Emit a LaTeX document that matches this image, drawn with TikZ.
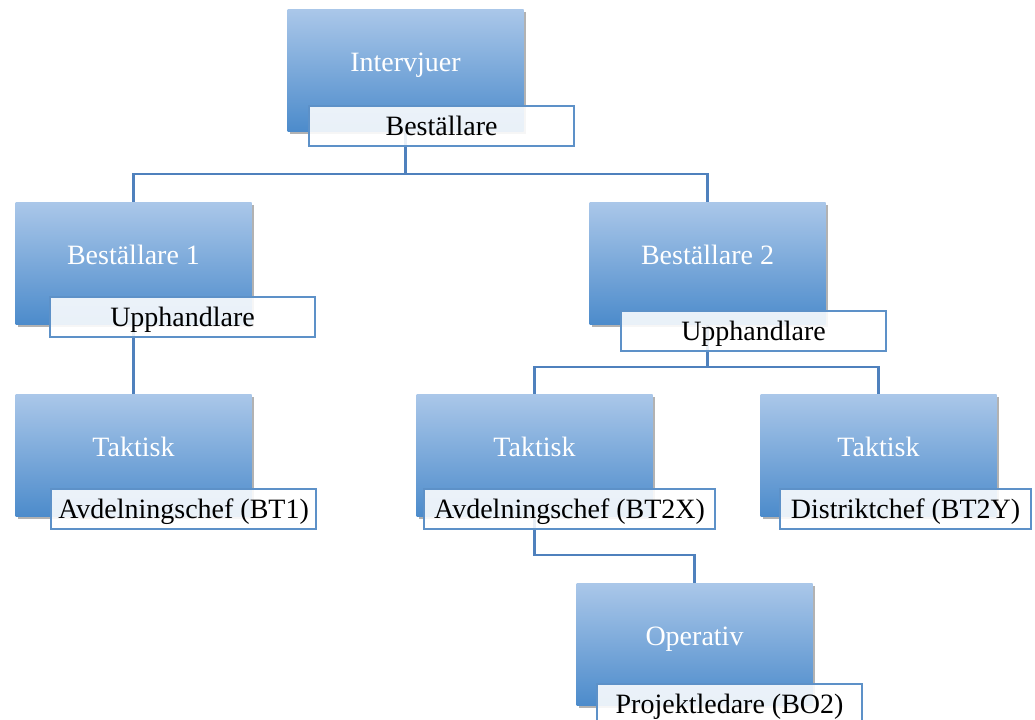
\documentclass[tikz,border=0pt]{standalone}
\usepackage{fontspec}
\setmainfont{Liberation Serif}
\usetikzlibrary{shadows,backgrounds}

\definecolor{boxtop}{RGB}{170,199,233}
\definecolor{boxbot}{RGB}{76,139,203}
\definecolor{lineblue}{RGB}{79,129,189}
\definecolor{tagblue}{RGB}{93,145,200}

\tikzset{every picture/.style={line width=0.75pt}}
\tikzset{
  rolebox/.style={rectangle, anchor=north west, minimum width=177pt, minimum height=91.5pt,
    inner sep=0pt, text height=46.5pt, text depth=45pt, top color=boxtop, bottom color=boxbot,
    text=white, font=\fontsize{21}{25}\selectfont,
    drop shadow={shadow xshift=1.5pt, shadow yshift=-2pt, opacity=0.3, fill=black}},
  tagbox/.style={rectangle, anchor=north west, minimum width=198.75pt, minimum height=30pt,
    inner sep=0pt, text height=13.9pt, text depth=0pt, draw=tagblue, line width=1.6pt,
    fill=white, fill opacity=0.88, text opacity=1, text=black, font=\fontsize{21}{25}\selectfont},
  link/.style={draw=lineblue, line width=1.8pt}
}

\begin{document}
\begin{tikzpicture}[x=0.75pt,y=0.75pt,yscale=-1,xscale=1]
        \useasboundingbox (0,0) rectangle (1035,719);

        %Level 0
        \node[rolebox] (intv) at (287,9) {Intervjuer};
        \node[tagbox] (tag0) at (308,105) {Beställare};

        %Level 1
        \node[rolebox] (best1) at (15,202) {Beställare 1};
        \node[tagbox] (tag1) at (49,296) {Upphandlare};
        \node[rolebox] (best2) at (589,202) {Beställare 2};
        \node[tagbox] (tag2) at (620,310) {Upphandlare};

        %Level 2
        \node[rolebox] (takt1) at (15,394) {Taktisk};
        \node[tagbox] (tag3) at (50,488) {Avdelningschef (BT1)};
        \node[rolebox] (takt2) at (416,394) {Taktisk};
        \node[tagbox, minimum width=218.25pt] (tag4) at (423,488) {Avdelningschef (BT2X)};
        \node[rolebox] (takt3) at (760,394) {Taktisk};
        \node[tagbox, minimum width=188.25pt] (tag5) at (779,488) {Distriktchef (BT2Y)};

        %Level 3
        \node[rolebox] (oper) at (576,583) {Operativ};
        \node[tagbox] (tag6) at (596,683) {Projektledare (BO2)};

        %Connectors
        \begin{scope}[on background layer]
          \path (intv.south) ++(0,42) coordinate (bus0);
          \path (best2.south) ++(0,42) coordinate (bus2);
          \path (takt2.south) ++(0,38) coordinate (bus4);
          \draw[link] (intv.south) -- (bus0) -| (best1.north);
          \draw[link] (bus0) -| (best2.north);
          \draw[link] (best1.south) -- (takt1.north);
          \draw[link] (best2.south) -- (bus2) -| (takt2.north);
          \draw[link] (bus2) -| (takt3.north);
          \draw[link] (takt2.south) -- (bus4) -| (oper.north);
        \end{scope}
\end{tikzpicture}
\end{document}
